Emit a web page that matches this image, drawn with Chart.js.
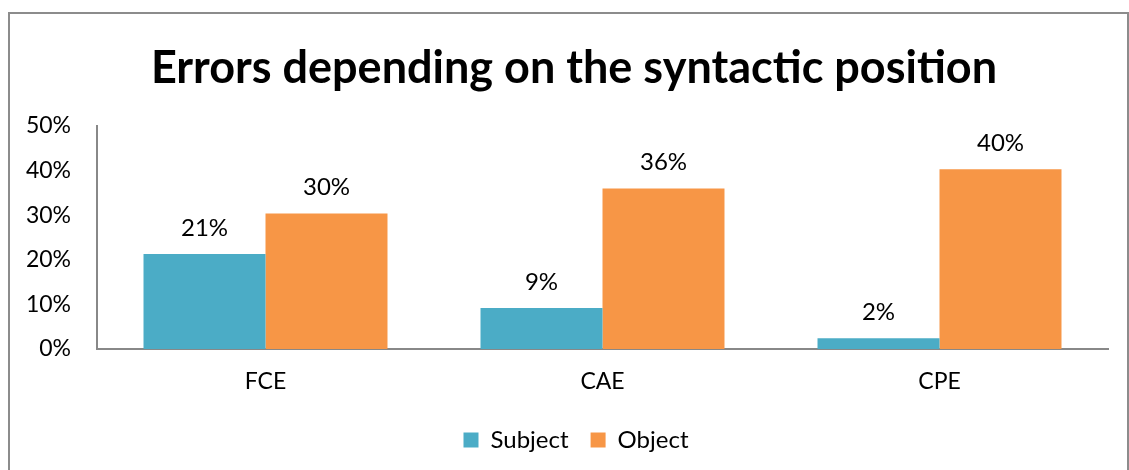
<!DOCTYPE html>
<html lang="en">
<head>
    <meta charset="UTF-8">
    <title>Errors depending on the syntactic position</title>
    <script src="https://cdn.jsdelivr.net/npm/chart.js@4.4.0/dist/chart.umd.min.js"></script>
</head>
<style>
    body { margin: 0; background: #fff; }
    #wrap { position: relative; width: 1129px; height: 470px; }
    #frame {
        position: absolute; left: 8px; top: 12px; width: 1117px; height: 480px;
        border: 2px solid #8c8c8c; pointer-events: none;
    }
</style>
<body>
    <div id="wrap">
        <canvas id="bar-chart" width="1129" height="470"></canvas>
        <div id="frame"></div>
    </div>
    <script>
    // data
    var exams = ["FCE", "CAE", "CPE"];
    var subjectErrors = [0.213, 0.092, 0.024];
    var objectErrors = [0.304, 0.360, 0.403];
    var yTicks = [0, 0.1, 0.2, 0.3, 0.4, 0.5];

    var font = "Lato, 'Open Sans', sans-serif";

    // writes the value above every bar
    var barLabels = {
        id: "barLabels",
        afterDatasetsDraw: function(chart) {
            var ctx = chart.ctx;
            ctx.save();
            ctx.font = "24px " + font;
            ctx.fillStyle = "#000";
            ctx.textAlign = "center";
            ctx.textBaseline = "bottom";
            chart.data.datasets.forEach(function(ds, i) {
                chart.getDatasetMeta(i).data.forEach(function(bar, j) {
                    ctx.fillText(Math.round(ds.data[j] * 100) + "%", bar.x, bar.y - 14);
                });
            });
            ctx.restore();
        }
    };

    // title and legend sit centred on the frame, not on the plot
    var centreBoxes = {
        id: "centreBoxes",
        afterLayout: function(chart) {
            chart.titleBlock.left += 20;
            chart.titleBlock.right += 20;
            chart.legend.left += 22;
            chart.legend.right += 22;
        }
    };

    Chart.defaults.font.family = font;
    Chart.defaults.color = "#000";

    new Chart(document.getElementById("bar-chart"), {
        type: "bar",
        data: {
            labels: exams,
            datasets: [{
                label: "Subject",
                data: subjectErrors,
                backgroundColor: "#4BACC6",
                categoryPercentage: 0.724,
                barPercentage: 1
            }, {
                label: "Object",
                data: objectErrors,
                backgroundColor: "#F79646",
                categoryPercentage: 0.724,
                barPercentage: 1
            }]
        },
        options: {
            responsive: false,
            animation: false,
            layout: { padding: { left: 0, right: 21, top: 0, bottom: 8 } },
            plugins: {
                title: {
                    display: true,
                    text: "Errors depending on the syntactic position",
                    font: { size: 45, weight: "bold" },
                    color: "#000",
                    padding: { top: 41, bottom: 31 }
                },
                legend: {
                    position: "bottom",
                    labels: {
                        boxWidth: 15,
                        boxHeight: 15,
                        padding: 22,
                        font: { size: 24 }
                    }
                },
                tooltip: { enabled: false }
            },
            scales: {
                x: {
                    afterFit: function(scale) { scale.height = 57; },
                    grid: { display: false },
                    border: { display: true, color: "#888", width: 2 },
                    ticks: { padding: 11, font: { size: 23 } }
                },
                y: {
                    min: 0,
                    max: 0.5,
                    afterFit: function(scale) { scale.width = 97; },
                    afterBuildTicks: function(scale) {
                        scale.ticks = yTicks.map(function(v) { return { value: v }; });
                    },
                    grid: { display: false, drawTicks: false },
                    border: { display: true, color: "#888", width: 2 },
                    ticks: {
                        padding: 26,
                        font: { size: 23 },
                        callback: function(v) { return Math.round(v * 100) + "%"; }
                    }
                }
            }
        },
        plugins: [barLabels, centreBoxes]
    });
    </script>
</body>
</html>
